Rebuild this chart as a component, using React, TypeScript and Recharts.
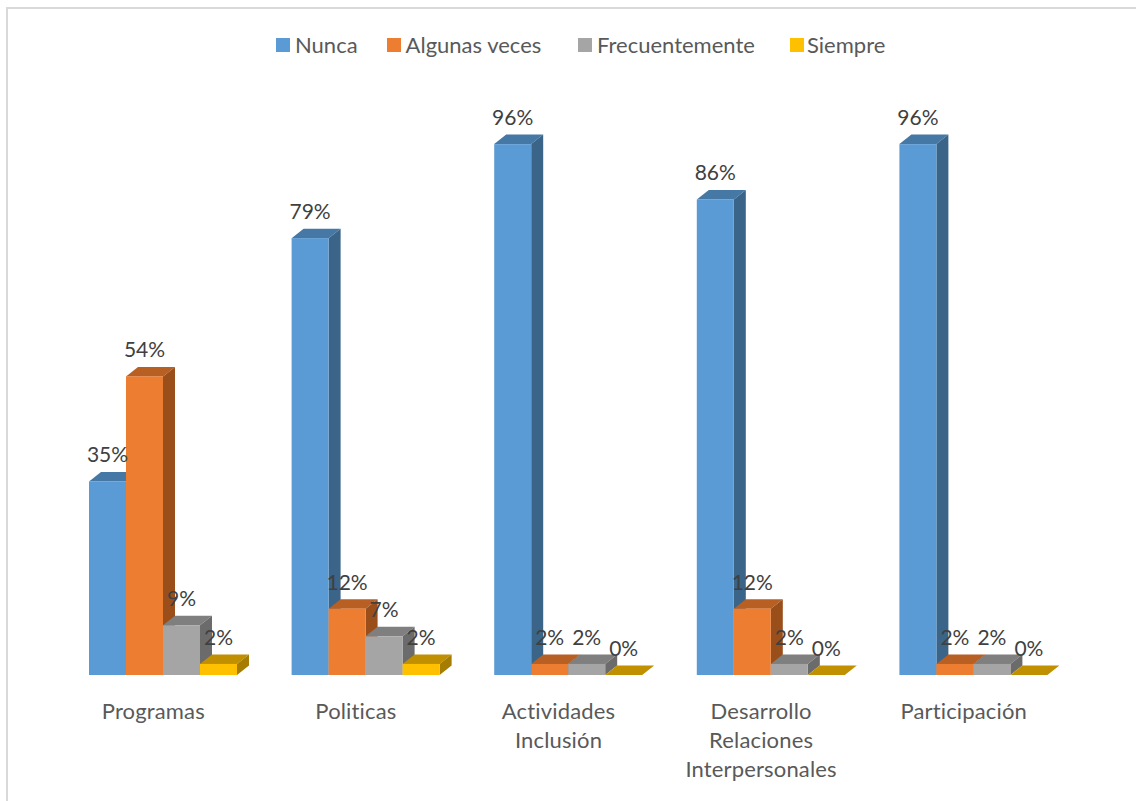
import { BarChart, Bar, XAxis, YAxis, Legend, LabelList } from 'recharts';

const categories = ['Programas', 'Politicas', 'Actividades\nInclusión', 'Desarrollo\nRelaciones\nInterpersonales', 'Participación'];
const nunca = [35, 79, 96, 86, 96];
const algunasVeces = [54, 12, 2, 12, 2];
const frecuentemente = [9, 7, 2, 2, 2];
const siempre = [2, 2, 0, 0, 0];

const data = categories.map((name, i) => ({
  name,
  nunca: nunca[i],
  algunasVeces: algunasVeces[i],
  frecuentemente: frecuentemente[i],
  siempre: siempre[i],
}));

const FONT = 'Lato, sans-serif';
const DEPTH_X = 12;
const DEPTH_Y = 9.5;

// front, top, side
const BLUE = ['#5B9BD5', '#4678A6', '#3A6488'];
const ORANGE = ['#ED7D31', '#B85F24', '#9A4F1B'];
const GRAY = ['#A5A5A5', '#7F7F7F', '#6B6B6B'];
const YELLOW = ['#FFC000', '#C09000', '#A67D00'];

function Box3D({ x, y, width, height, colors }: any) {
  const right = x + width;
  const bottom = y + height;
  return (
    <g>
      <polygon
        points={`${x},${y} ${x + DEPTH_X},${y - DEPTH_Y} ${right + DEPTH_X},${y - DEPTH_Y} ${right},${y}`}
        fill={colors[1]}
      />
      <polygon
        points={`${right},${y} ${right + DEPTH_X},${y - DEPTH_Y} ${right + DEPTH_X},${bottom - DEPTH_Y} ${right},${bottom}`}
        fill={colors[2]}
      />
      <rect x={x} y={y} width={width} height={height} fill={colors[0]} />
    </g>
  );
}

function CategoryTick({ x, y, payload }: any) {
  const lines = String(payload.value).split('\n');
  const cx = x - 10;
  return (
    <text x={cx} y={y} textAnchor="middle" fontFamily={FONT} fontSize={22} letterSpacing={0.15} fill="#595959">
      {lines.map((line, i) => (
        <tspan key={i} x={cx} y={y + 29 * i + 36}>
          {line}
        </tspan>
      ))}
    </text>
  );
}

const legendItems = [
  { label: 'Nunca', color: BLUE[0], width: 110.6 },
  { label: 'Algunas veces', color: ORANGE[0], width: 191.4 },
  { label: 'Frecuentemente', color: GRAY[0], width: 212 },
  { label: 'Siempre', color: YELLOW[0], width: 100 },
];

function ChartLegend() {
  return (
    <div style={{ display: 'flex', paddingLeft: 276, fontFamily: FONT, fontSize: 22, color: '#595959' }}>
      {legendItems.map((item) => (
        <div key={item.label} style={{ display: 'flex', alignItems: 'center', width: item.width }}>
          <span style={{ width: 14, height: 14, background: item.color, marginRight: item.label === 'Siempre' ? 3 : 5 }} />
          <span>{item.label}</span>
        </div>
      ))}
    </div>
  );
}

const seriesLabel = (key: string) => (
  <LabelList
    dataKey={key}
    position="top"
    offset={19}
    formatter={(v: any) => `${v}%`}
    fill="#404040"
    fontFamily={FONT}
    fontSize={21}
  />
);

export default function App() {
  return (
    <div style={{ position: 'absolute', left: 0, top: 0, width: 1136, height: 801, overflow: 'hidden', background: '#fff' }}>
      <div style={{ position: 'absolute', left: 6, top: 7, width: 1130, height: 794, borderLeft: '2px solid #d9d9d9', borderTop: '2px solid #d9d9d9', boxSizing: 'border-box' }} />
      <div style={{ position: 'absolute', left: 0, top: 0 }}>
        <BarChart
          width={1136}
          height={801}
          data={data}
          barSize={37}
          barGap={0}
          margin={{ top: 122, right: 61, bottom: 0, left: 62 }}
        >
          <XAxis dataKey="name" axisLine={false} tickLine={false} interval={0} tick={<CategoryTick />} height={126} />
          <YAxis hide domain={[0, 100]} />
          <Legend verticalAlign="middle" wrapperStyle={{ top: 31, left: 0, width: 1136 }} content={<ChartLegend />} />
          <Bar dataKey="nunca" name="Nunca" isAnimationActive={false} shape={(p: any) => <Box3D {...p} colors={BLUE} />}>
            {seriesLabel('nunca')}
          </Bar>
          <Bar dataKey="algunasVeces" name="Algunas veces" isAnimationActive={false} shape={(p: any) => <Box3D {...p} colors={ORANGE} />}>
            {seriesLabel('algunasVeces')}
          </Bar>
          <Bar dataKey="frecuentemente" name="Frecuentemente" isAnimationActive={false} shape={(p: any) => <Box3D {...p} colors={GRAY} />}>
            {seriesLabel('frecuentemente')}
          </Bar>
          <Bar dataKey="siempre" name="Siempre" isAnimationActive={false} shape={(p: any) => <Box3D {...p} colors={YELLOW} />}>
            {seriesLabel('siempre')}
          </Bar>
        </BarChart>
      </div>
    </div>
  );
}
